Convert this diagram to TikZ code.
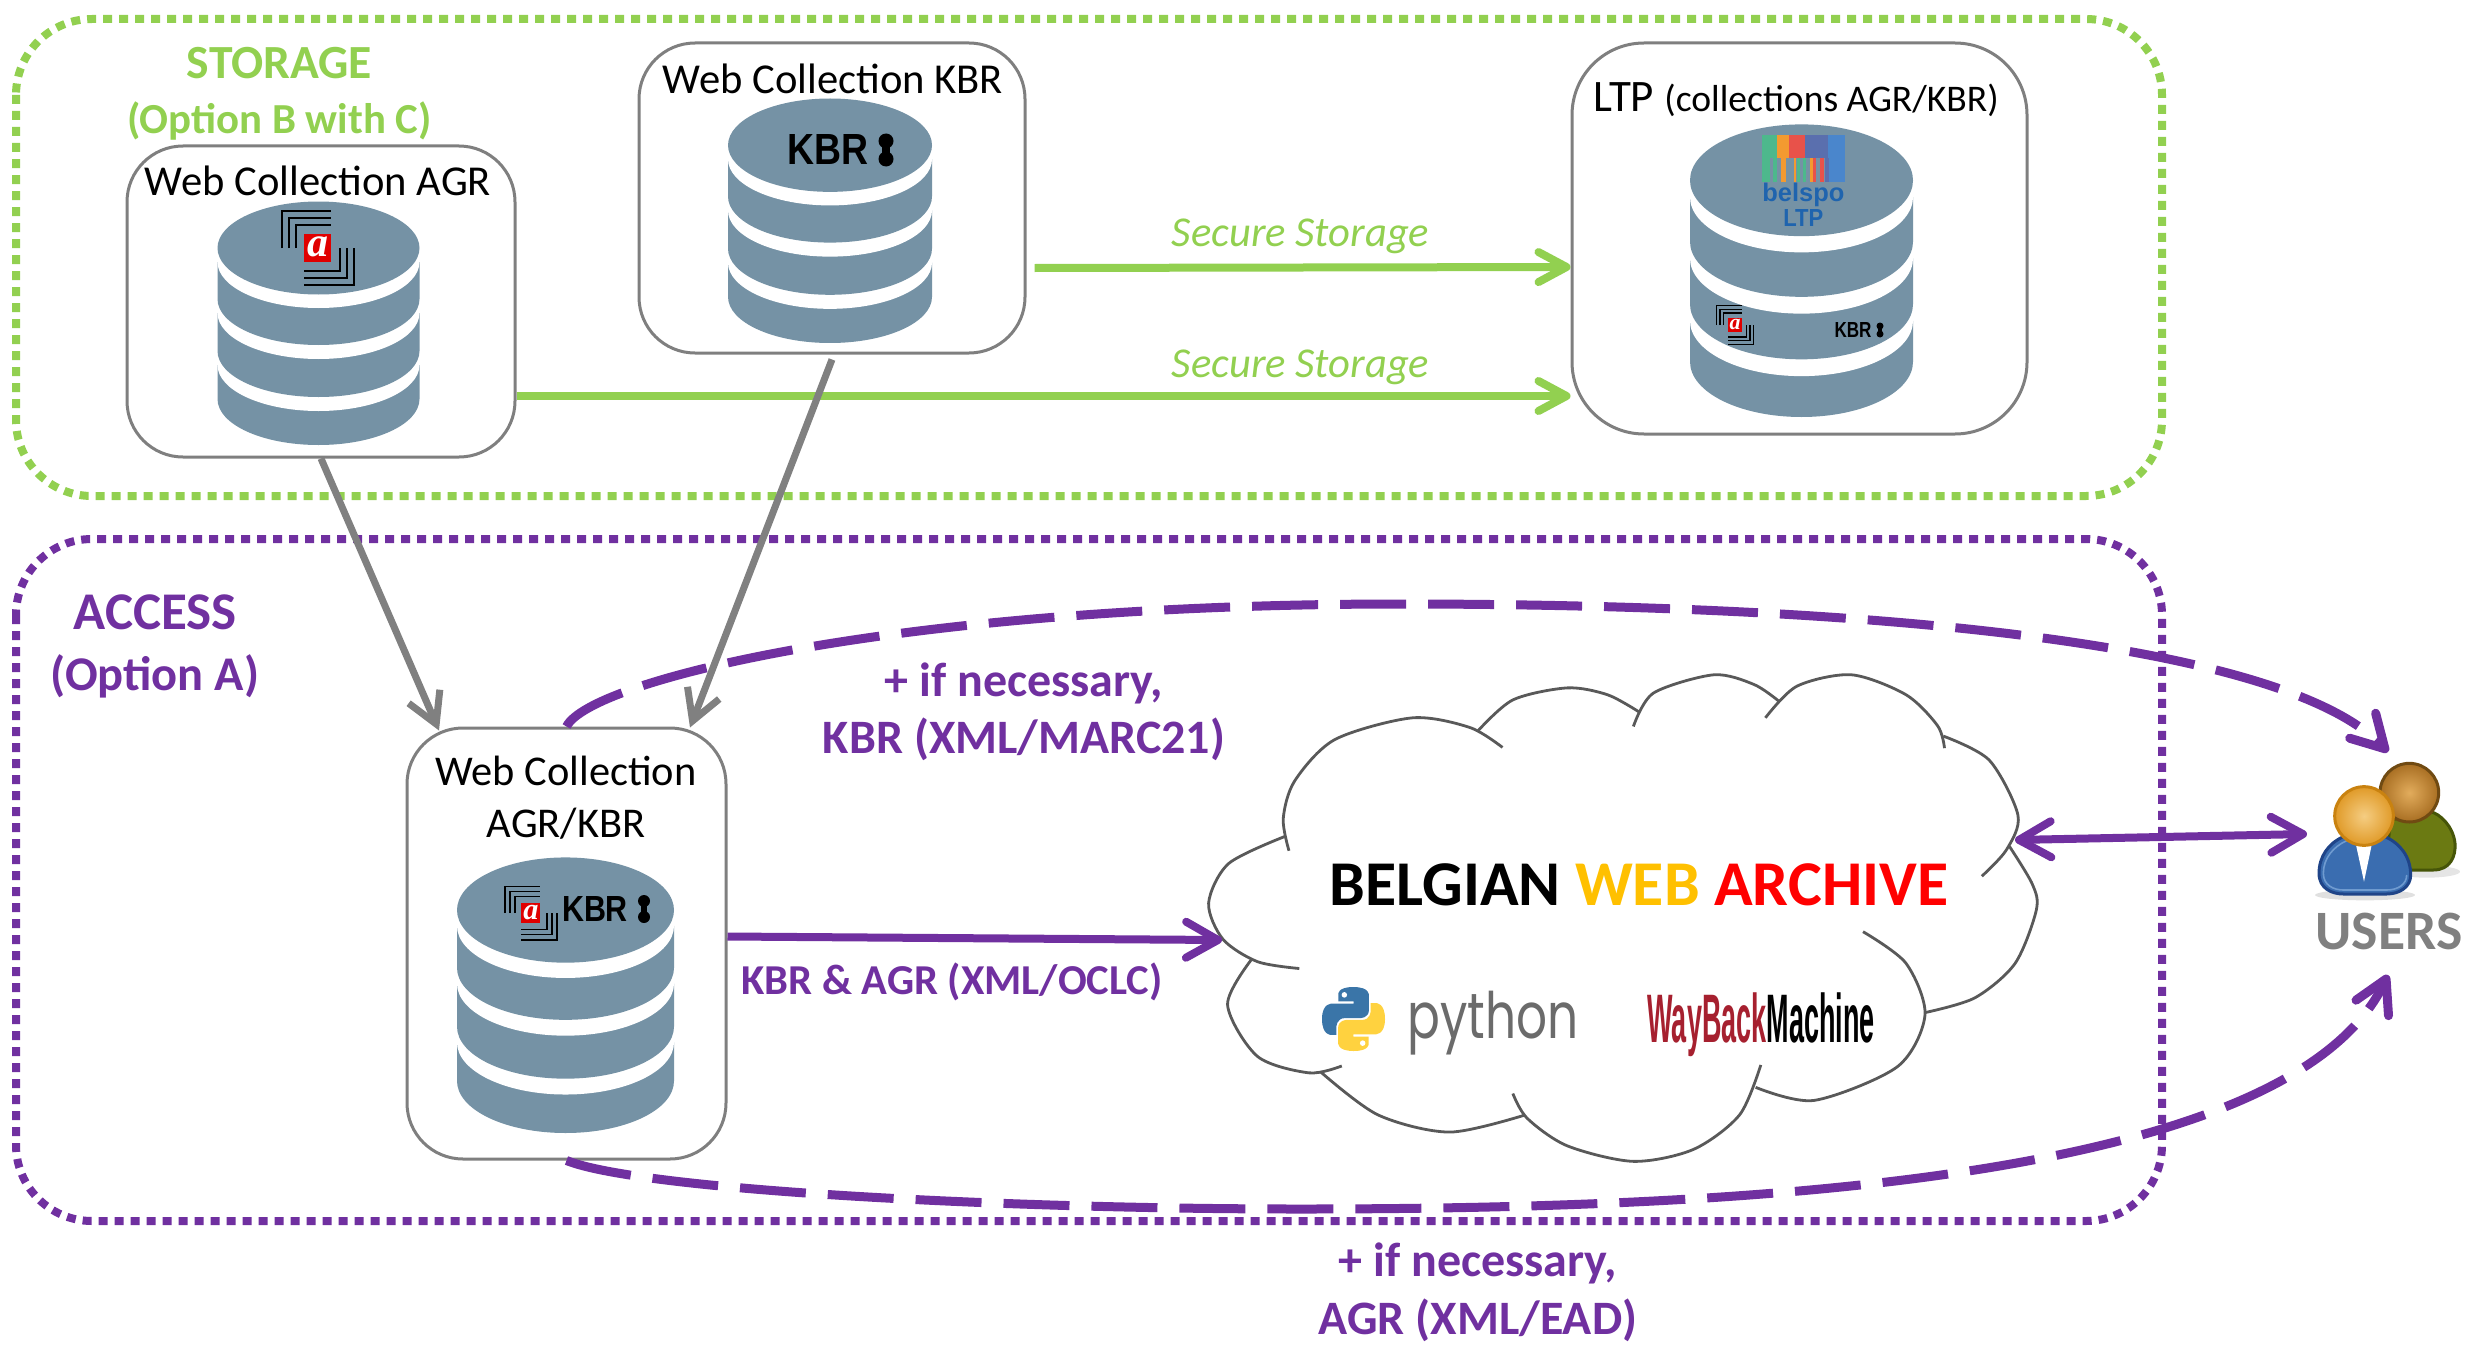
\documentclass[tikz,border=0pt]{standalone}
\usepackage{fontspec}
\usepackage{graphicx}
\setmainfont{Carlito}
\newfontfamily\arialf{Liberation Sans}
\newfontfamily\timesf{Liberation Serif}
\newfontfamily\popf{Poppins}
\usetikzlibrary{arrows.meta,calc}
\definecolor{gr}{HTML}{92D050}
\definecolor{pu}{HTML}{7030A0}
\definecolor{db}{HTML}{7592A5}
\definecolor{bxl}{HTML}{7F7F7F}
\definecolor{clo}{HTML}{595959}
\definecolor{belblue}{HTML}{1F64AE}
\definecolor{pyblue}{HTML}{3A75A8}
\definecolor{pyyel}{HTML}{FFD23F}
\definecolor{wbred}{HTML}{A6202F}
\definecolor{bA}{HTML}{4DB88C}
\definecolor{bB}{HTML}{F39A30}
\definecolor{bC}{HTML}{E8524A}
\definecolor{bD}{HTML}{5A6FAE}
\definecolor{bE}{HTML}{4A86CC}
\newcommand\fsz[1]{\fontsize{#1}{#1}\selectfont}
\tikzset{
  dotbox/.style={line width=4pt,dash pattern=on 4.5pt off 3.5pt,rounded corners=38pt},
  colbox/.style={draw=bxl,line width=1.5pt,fill=white,rounded corners=28pt,inner sep=0pt},
  grarrow/.style={draw=gr,line width=4pt,-{Straight Barb[length=14pt,width=15pt,round]}},
  gyarrow/.style={draw=gray,line width=3.5pt,-{Straight Barb[length=15pt,width=17pt]}},
  puarrow/.style={draw=pu,line width=4pt,-{Straight Barb[length=16pt,width=18pt,round]}},
  pudash/.style={puarrow,line width=4.5pt,dash pattern=on 33pt off 11pt},
  txt/.style={inner sep=0pt,text depth=0pt,text height=#1*.64pt},
  multi/.style={inner sep=0pt,align=center,text=pu},
  lobe/.style={draw=clo,line width=1.4pt},
}
\newcommand\dbcyl[4]{%
  \begin{scope}[shift={(#1,#2)},xscale=#3/101,yscale=#4/243]
    \foreach \c/\w in {197/163,149/111,97/60}{
      \fill[db] (-101,\w) -- (-101,\c) .. controls (-101,\c+25.6) and (-55.8,\c+46) .. (0,\c+46)
        .. controls (55.8,\c+46) and (101,\c+25.6) .. (101,\c) -- (101,\w) -- cycle;
      \fill[white] (0,\w) ellipse (101 and 46);
    }
    \fill[db] (0,46) ellipse (101 and 46.5);
  \end{scope}}
\newcommand\agrlogo[3]{%
  \begin{scope}[shift={(#1,#2)},scale=#3,line width=#3*1.2pt]
    \foreach \d in {0,7,14}{
      \draw[black] (-36+\d,0) -- (-36+\d,-37+\d) -- (13,-37+\d);
      \draw[black] (36-\d,0) -- (36-\d,37-\d) -- (-14,37-\d);
    }
    \fill[red!88!black] (-14,-14) rectangle (13,14);
    \node[transform shape,inner sep=0pt,text=white,font=\timesf\bfseries\itshape\fsz{21}] (agra#1x#2) at (0,-1) {a};
  \end{scope}}
\newcommand\kbrlogo[7]{%
  \node[inner sep=0pt] (kbr#1x#2) at (#1,#2) {\resizebox{#3pt}{#4pt}{\arialf\bfseries KBR}};
  \fill[black] (#5,#2-#7/2+#6/2) circle ({#6/2});
  \fill[black] (#5,#2+#7/2-#6/2) circle ({#6/2});
  \fill[black] (#5-#6/4,#2-#7/4) rectangle (#5+#6/4,#2+#7/4);}
\begin{document}
\begin{tikzpicture}[x=0.5pt,y=-0.5pt]
\useasboundingbox (0,0) rectangle (2484,1354);
% group frames
\draw[dotbox,gr] (16,19) rectangle (2162,496);
\draw[dotbox,pu] (16,539) rectangle (2162,1221);
% collection boxes
\node[colbox,minimum width=194pt,minimum height=155.5pt] (agrbox) at (321,301.5) {};
\node[colbox,minimum width=193pt,minimum height=155pt] (kbrbox) at (832,198) {};
\node[colbox,rounded corners=36pt,minimum width=227.5pt,minimum height=195.5pt] (ltpbox) at (1799.5,238.5) {};
\node[colbox,minimum width=159.5pt,minimum height=215.5pt] (webbox) at (566.5,943.5) {};
% named free ends
\coordinate (cloudW) at (1222,940);
\coordinate (cloudE) at (2015,840);
\coordinate (usersT) at (2388,752);
\coordinate (usersL) at (2307,834);
\coordinate (usersB) at (2388,975);
% storage connectors
\draw[grarrow] ([xshift=4pt,yshift=-35pt]kbrbox.east) -- ([yshift=-14.25pt]ltpbox.west);
\draw[grarrow] ([yshift=-47.25pt]agrbox.east) -- ([yshift=-78.75pt]ltpbox.west);
\draw[gyarrow] (agrbox.south) -- ([xshift=-63.75pt,yshift=-2pt]webbox.north);
\draw[gyarrow] ([yshift=-2.5pt]kbrbox.south) -- ([xshift=61.75pt,yshift=-0.5pt]webbox.north);
% cylinders
\dbcyl{318.5}{202}{101}{243}
\dbcyl{830}{99}{102}{244}
\dbcyl{1801.5}{125}{111.5}{292}
\dbcyl{565.5}{858}{108.5}{275}
% logos on the cylinders
\agrlogo{318}{248}{1}
\kbrlogo{828}{150}{40.5}{15}{886}{15}{33}
\agrlogo{1735}{325}{.52}
\kbrlogo{1853}{330}{18.5}{7.5}{1880}{7}{15}
\agrlogo{531}{913}{.72}
\kbrlogo{595}{909}{33}{12.5}{644}{12}{28}
% belspo LTP logo (coordinates of the crop, 3x)
\begin{scope}[shift={(1560,30)},scale=1/3]
  \fill[bA] (605,315) rectangle (650,385);
  \fill[bB] (650,315) rectangle (687,385);
  \fill[bC] (687,315) rectangle (735,385);
  \fill[bD] (735,315) rectangle (805,385);
  \fill[bE] (805,315) rectangle (855,455);
  \foreach \a/\b/\c in {605/630/bA,640/650/bA,662/678/bB,702/708/bB,712/720/bA,730/738/bA,750/758/bB,760/768/bC,780/792/bC,796/808/bD}{
    \fill[\c] (\a,385) rectangle (\b,455);
  }
  \node[inner sep=0pt,text=belblue] (belspo) at (730,495) {\resizebox{41pt}{!}{\arialf\bfseries belspo}};
  \node[inner sep=0pt,text=belblue] (belltp) at (730,565) {\resizebox{20pt}{8.5pt}{\arialf\bfseries LTP}};
\end{scope}
% titles of the collections
\node[txt=21.3,font=\fsz{21.3}] (tagr) at (318,182) {Web Collection AGR};
\node[txt=21.3,font=\fsz{21.3}] (tkbr) at (833,80) {Web Collection KBR};
\node[inner sep=0pt,font=\fsz{22.5},anchor=base west] (tltp) at (1593,112) {LTP \fsz{18.8}(collections AGR/KBR)};
\node[inner sep=0pt,align=center,font=\fontsize{21.2}{26}\selectfont] (tweb) at (566,798) {Web Collection\\AGR/KBR};
% group titles
\node[txt=23.8,font=\bfseries\fsz{23.8},text=gr] (tsto) at (279.5,63) {STORAGE};
\node[txt=21.4,font=\bfseries\fsz{21.4},text=gr] (topb) at (279.5,120) {(Option B with C)};
\node[txt=26.5,font=\bfseries\fsz{26.5},text=pu] (tacc) at (155,613) {ACCESS};
\node[txt=24.2,font=\bfseries\fsz{24.2},text=pu] (topa) at (155,675) {(Option A)};
% storage labels
\node[txt=21.3,font=\itshape\fsz{21.3},text=gr] (ss1) at (1300.5,233) {Secure Storage};
\node[txt=21.3,font=\itshape\fsz{21.3},text=gr] (ss2) at (1300.5,364) {Secure Storage};
% cloud (coordinates of the crop)
\begin{scope}[shift={(1200,650)},xscale=1/1.742,yscale=1/2.904]
  \draw[lobe] plot[smooth] coordinates {(155,583) (145,490) (165,380) (235,260) (370,197) (470,225) (527,283)};
  \draw[lobe] plot[smooth] coordinates {(483,237) (545,145) (640,110) (710,130) (765,180)};
  \draw[lobe] plot[smooth] coordinates {(755,222) (790,125) (895,72) (965,100) (1008,148)};
  \draw[lobe] plot[smooth] coordinates {(985,197) (1040,105) (1135,72) (1230,130) (1285,220) (1297,285)};
  \draw[lobe] plot[smooth] coordinates {(1295,250) (1375,320) (1425,480) (1405,580) (1362,657)};
  \draw[lobe] plot[smooth] coordinates {(1410,570) (1450,680) (1457,755) (1420,910) (1350,1010) (1263,1053)};
  \draw[lobe] plot[smooth] coordinates {(1155,818) (1230,910) (1263,1060) (1215,1210) (1070,1308) (968,1270)};
  \draw[lobe] plot[smooth] coordinates {(977,1205) (940,1350) (860,1450) (755,1485) (640,1440) (570,1360) (545,1288)};
  \draw[lobe] plot[smooth] coordinates {(567,1350) (435,1400) (310,1350) (210,1225)};
  \draw[lobe] plot[smooth] coordinates {(247,1208) (190,1228) (100,1180) (48,1030) (90,898)};
  \draw[lobe] plot[smooth] coordinates {(173,925) (100,905) (40,840) (15,735) (50,620) (147,542)};
\end{scope}
\node[txt=31.9,font=\bfseries\fsz{31.9}] (tbwa) at (1639,885) {BELGIAN \textcolor[HTML]{FFC000}{WEB} \textcolor{red}{ARCHIVE}};
% python logo
\begin{scope}[shift={(1322,987)},xscale=63/110,yscale=64/110]
  \fill[pyblue] (54.9,0) .. controls (26.9,0) and (28.6,12.2) .. (28.6,12.2) -- (28.6,24.8) -- (55.3,24.8) -- (55.3,28.6) -- (18,28.6) .. controls (18,28.6) and (0,26.5) .. (0,54.9) .. controls (0,83.3) and (15.7,82.3) .. (15.7,82.3) -- (25.1,82.3) -- (25.1,69.1) .. controls (25.1,69.1) and (24.6,53.4) .. (40.5,53.4) -- (67.1,53.4) .. controls (67.1,53.4) and (82,53.6) .. (82,39) -- (82,14.9) .. controls (82,14.9) and (84.3,0) .. (54.9,0) -- cycle;
  \begin{scope}[shift={(110,110)},scale=-1]
    \fill[pyyel] (54.9,0) .. controls (26.9,0) and (28.6,12.2) .. (28.6,12.2) -- (28.6,24.8) -- (55.3,24.8) -- (55.3,28.6) -- (18,28.6) .. controls (18,28.6) and (0,26.5) .. (0,54.9) .. controls (0,83.3) and (15.7,82.3) .. (15.7,82.3) -- (25.1,82.3) -- (25.1,69.1) .. controls (25.1,69.1) and (24.6,53.4) .. (40.5,53.4) -- (67.1,53.4) .. controls (67.1,53.4) and (82,53.6) .. (82,39) -- (82,14.9) .. controls (82,14.9) and (84.3,0) .. (54.9,0) -- cycle;
    \fill[white] (39,13.5) circle (4.8);
  \end{scope}
  \fill[white] (39,13.5) circle (4.8);
\end{scope}
\node[inner sep=0pt,text=black!58] (tpy) at (1493,1023) {\resizebox*{85.5pt}{32pt}{\popf python}};
\node[inner sep=0pt] (twb) at (1761,1025) {\resizebox*{113.5pt}{32pt}{\arialf\bfseries\textcolor{wbred}{WayBack}\textcolor{black}{Machine}}};
% users icon (coordinates of the crop, 3x)
\begin{scope}[shift={(2200,680)},scale=1/3]
  \fill[black!10] (680,575) ellipse (100 and 18);
  \fill[black!12] (495,645) ellipse (150 and 16);
  \draw[fill={rgb,255:red,107;green,122;blue,18},draw={rgb,255:red,70;green,85;blue,8},line width=1.5pt] (560,570) -- (700,570) .. controls (750,570) and (768,530) .. (765,490) .. controls (760,440) and (720,400) .. (690,395) -- (570,420) -- cycle;
  \shade[inner color={rgb,255:red,226;green,172;blue,92},outer color={rgb,255:red,168;green,110;blue,34},draw={rgb,255:red,112;green,74;blue,18},line width=1.5pt] (628,338) circle (88);
  \draw[fill={rgb,255:red,58;green,109;blue,176},draw={rgb,255:red,31;green,68;blue,136},line width=1.5pt] (430,470) .. controls (385,490) and (357,530) .. (357,580) .. controls (357,625) and (395,642) .. (430,642) -- (560,642) .. controls (600,642) and (632,620) .. (632,585) .. controls (632,530) and (600,490) .. (555,470) -- cycle;
  \draw[draw={rgb,255:red,111;green,155;blue,208},line width=.8pt] (440,482) .. controls (400,500) and (370,535) .. (370,580) .. controls (370,615) and (400,630) .. (430,630) -- (560,630) .. controls (595,630) and (620,612) .. (620,585);
  \fill[white] (468,495) -- (515,495) -- (492,605) -- cycle;
  \shade[inner color={rgb,255:red,245;green,205;blue,130},outer color={rgb,255:red,224;green,154;blue,40},draw={rgb,255:red,201;green,130;blue,16},line width=1.5pt] (492,408) circle (88);
\end{scope}
\node[txt=27.8,font=\bfseries\fsz{27.8},text=gray] (tusers) at (2389,932) {USERS};
% access connectors
\draw[puarrow] ([yshift=3.5pt]webbox.east) -- (cloudW);
\draw[draw=pu,line width=4pt,{Straight Barb[length=16pt,width=18pt,round]}-{Straight Barb[length=16pt,width=18pt,round]}] (cloudE) -- (usersL);
\draw[pudash] (webbox.north) .. controls (590,680) and (900,604) .. (1400,604) .. controls (1850,604) and (2280,640) .. (usersT);
\draw[pudash] (webbox.south) .. controls (640,1190) and (1000,1209) .. (1300,1209) .. controls (1750,1209) and (2290,1180) .. (usersB);
% access labels
\node[multi,font=\bfseries\fontsize{24}{28.5}\selectfont] (tl1) at (1024,712) {+ if necessary,\\KBR (XML/MARC21)};
\node[txt=21.3,font=\bfseries\fsz{21.3},text=pu] (tl2) at (952,980.5) {KBR \& AGR (XML/OCLC)};
\node[multi,font=\bfseries\fontsize{24}{29}\selectfont] (tl3) at (1478,1292) {+ if necessary,\\AGR (XML/EAD)};
\end{tikzpicture}
\end{document}
